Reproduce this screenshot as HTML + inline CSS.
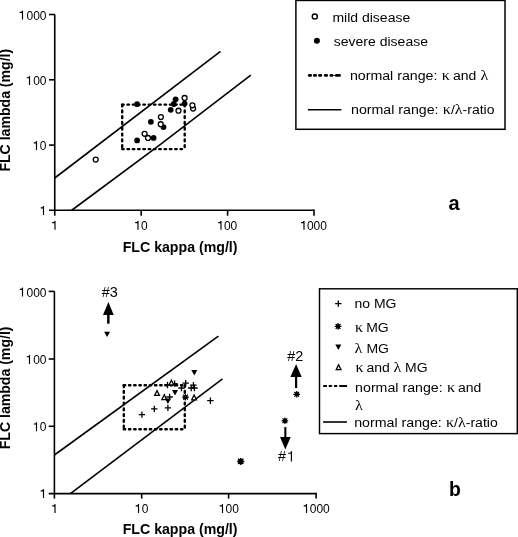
<!DOCTYPE html>
<html><head><meta charset="utf-8">
<style>
html,body{margin:0;padding:0;background:#fff;}
body{width:518px;height:537px;overflow:hidden;}
svg{display:block;font-family:"Liberation Sans",sans-serif;will-change:transform;}
.ax line{stroke:#000;stroke-width:1.6;}
.tl{font-size:12px;fill:#000;}
.tt{font-size:14px;font-weight:bold;fill:#000;}
.lg{font-size:13.5px;fill:#000;}
.gr{font-family:"Liberation Serif",serif;font-size:15.5px;}
</style></head>
<body>
<svg width="518" height="537" viewBox="0 0 518 537">
<defs>
<g id="oc"><circle r="2.45" fill="#fff" stroke="#000" stroke-width="1.35"/></g>
<g id="fc"><circle r="2.9" fill="#000"/></g>
<g id="pl"><path d="M-3.2 0H3.2M0 -3.2V3.2" stroke="#000" stroke-width="1.3" fill="none"/></g>
<g id="tu"><path d="M0 -2.3L2.4 2.5H-2.4Z" fill="#fff" stroke="#000" stroke-width="1.3" stroke-linejoin="miter"/></g>
<g id="td"><path d="M-3 -2.1H3L0 3.3Z" fill="#000"/></g>
<g id="st2"><circle r="2.7" fill="#000"/><path d="M-3.6 0H3.6M0 -3.5V3.5M-2.6 -2.6L2.6 2.6M-2.6 2.6L2.6 -2.6" stroke="#000" stroke-width="1.5"/></g>
<g id="st3"><circle r="1.9" fill="#000"/><path d="M-2.8 0H2.8M0 -2.8V2.8M-2 -2L2 2M-2 2L2 -2" stroke="#000" stroke-width="1.1"/></g>
<g id="st"><circle r="2.2" fill="#000"/><path d="M-3.3 0H3.3M0 -3.3V3.3M-2.4 -2.4L2.4 2.4M-2.4 2.4L2.4 -2.4" stroke="#000" stroke-width="1.2"/></g>
</defs>

<!-- ============ CHART A ============ -->
<g class="ax">
<line x1="54.75" y1="14.5" x2="54.75" y2="215.7"/>
<line x1="49" y1="210.25" x2="314" y2="210.25"/>
<line x1="49" y1="14.5" x2="54.75" y2="14.5"/>
<line x1="49" y1="79.8" x2="54.75" y2="79.8"/>
<line x1="49" y1="145.1" x2="54.75" y2="145.1"/>
<line x1="141.2" y1="210.25" x2="141.2" y2="215.7"/>
<line x1="227.6" y1="210.25" x2="227.6" y2="215.7"/>
<line x1="314" y1="209.5" x2="314" y2="215.7"/>
</g>
<g class="tl">
<text text-anchor="end" x="46.5" y="19.6">000</text>
<text text-anchor="end" x="46.5" y="84.9">00</text>
<text text-anchor="end" x="46.5" y="150.1">0</text>
<text x="140.9" y="229.8">0</text>
<text x="223.9" y="229.8">00</text>
<text x="306.9" y="229.8">000</text>
</g>
<text class="tt" x="122.7" y="251.6" textLength="114.8" lengthAdjust="spacingAndGlyphs">FLC kappa (mg/l)</text>
<text class="tt" transform="translate(10,171.6) rotate(-90)" textLength="122.8" lengthAdjust="spacingAndGlyphs">FLC lambda (mg/l)</text>

<path fill="none" stroke="#000" stroke-width="1.15" stroke-linejoin="round" d="M19.70 12.40H21.80L22.50 11.10V19.60 M26.70 77.70H28.80L29.50 76.40V84.90 M33.70 142.90H35.80L36.50 141.60V150.10 M40.70 207.80H42.80L43.50 206.50V215.00 M52.20 222.60H54.30L55.00 221.30V229.80 M135.20 222.60H137.30L138.00 221.30V229.80 M218.20 222.60H220.30L221.00 221.30V229.80 M301.20 222.60H303.30L304.00 221.30V229.80 M19.70 289.30H21.80L22.50 288.00V296.50 M26.70 356.70H28.80L29.50 355.40V363.90 M33.70 424.00H35.80L36.50 422.70V431.20 M40.70 490.80H42.80L43.50 489.50V498.00 M52.20 505.80H54.30L55.00 504.50V513.00 M135.70 505.80H137.80L138.50 504.50V513.00 M219.70 505.80H221.80L222.50 504.50V513.00 M303.70 505.80H305.80L306.50 504.50V513.00 M288.20 453.20H290.70L291.40 451.70V461.50"/>
<!-- lines -->
<g stroke="#000" stroke-width="1.6" fill="none">
<line x1="54.75" y1="178" x2="220.5" y2="51.4"/>
<path d="M71.4 210.5L160.5 144.3L250.8 75.1"/>
<g stroke-width="2.4" stroke-linecap="round">
<path d="M122.2 104.6H184.7M122.2 149.1H184.7" stroke-dasharray="1.5 3.8"/>
<path d="M122.2 104.6V149.1M184.7 104.6V149.1" stroke-dasharray="1.8 4"/>
</g>
</g>

<!-- points A -->
<use href="#fc" x="137.1" y="104.2"/>
<use href="#fc" x="137.1" y="140.4"/>
<use href="#oc" x="144.6" y="133.8"/>
<use href="#oc" x="148" y="137.9"/>
<use href="#fc" x="153.6" y="137.9"/>
<use href="#fc" x="150.9" y="121.8"/>
<use href="#oc" x="160.9" y="117"/>
<use href="#fc" x="163.5" y="127.1"/>
<use href="#oc" x="160.7" y="124.2"/>
<use href="#fc" x="170.7" y="109.8"/>
<use href="#oc" x="178.5" y="110.7"/>
<use href="#fc" x="175.6" y="99.3"/>
<use href="#fc" x="173.8" y="104"/>
<use href="#fc" x="184.6" y="103.6"/>
<use href="#oc" x="184.6" y="97.9"/>
<use href="#oc" x="193.1" y="108.6"/>
<use href="#oc" x="192.4" y="105.3"/>
<use href="#oc" x="95.7" y="159.6"/>

<!-- legend A -->
<rect x="295.9" y="0.45" width="209.1" height="128.85" fill="none" stroke="#000" stroke-width="1.5"/>
<circle cx="314.8" cy="16.5" r="2.55" fill="#fff" stroke="#000" stroke-width="1.4"/>
<circle cx="316.9" cy="40.7" r="3" fill="#000"/>
<g class="lg">
<text transform="translate(332.4,21.5) scale(1.037,1)">mild disease</text>
<text transform="translate(333.8,46.1) scale(1.037,1)">severe disease</text>
<text transform="translate(349.9,79.6) scale(1.052,1)">normal range:</text><text class="gr" transform="translate(441.8,79.6) scale(1.037,1)">κ</text><text transform="translate(453.0,79.6) scale(1.037,1)">and</text><text class="gr" transform="translate(480.6,79.6) scale(1.037,1)">λ</text>
<text transform="translate(351.0,114.1) scale(1.052,1)">normal range:</text><text transform="translate(442.8,114.1) scale(1.037,1)"><tspan class="gr">κ</tspan>/<tspan class="gr">λ</tspan>-ratio</text>
</g>
<g fill="#000">
<rect x="307.9" y="74" width="4.1" height="2.7" rx="1.2"/>
<rect x="313" y="74" width="4" height="2.7" rx="1.2"/>
<rect x="318.2" y="74" width="3.9" height="2.7" rx="1.2"/>
<rect x="323.9" y="74" width="4.1" height="2.7" rx="1.2"/>
<rect x="329.5" y="74" width="3.8" height="2.7" rx="1.2"/>
<rect x="333" y="75" width="2.2" height="0.8"/>
<rect x="335" y="74" width="5.9" height="2.7" rx="1.2"/>
</g>
<line x1="307.9" y1="109.7" x2="341.4" y2="109.7" stroke="#000" stroke-width="1.6"/>
<text x="448.5" y="209.9" font-size="20" font-weight="bold">a</text>

<!-- ============ CHART B ============ -->
<g class="ax">
<line x1="54.4" y1="291.4" x2="54.4" y2="498.6"/>
<line x1="48.7" y1="493.6" x2="316.1" y2="493.6"/>
<line x1="48.7" y1="291.4" x2="54.4" y2="291.4"/>
<line x1="48.7" y1="359" x2="54.4" y2="359"/>
<line x1="48.7" y1="426.3" x2="54.4" y2="426.3"/>
<line x1="141.7" y1="493.6" x2="141.7" y2="498.6"/>
<line x1="228.6" y1="493.6" x2="228.6" y2="498.6"/>
<line x1="316.1" y1="492.8" x2="316.1" y2="498.6"/>
</g>
<g class="tl">
<text text-anchor="end" x="46.5" y="296.5">000</text>
<text text-anchor="end" x="46.5" y="363.9">00</text>
<text text-anchor="end" x="46.5" y="431.2">0</text>
<text x="141.70" y="513">0</text>
<text x="225.56" y="513">00</text>
<text x="309.73" y="513">000</text>
</g>
<text class="tt" x="122.7" y="534.2" textLength="114.8" lengthAdjust="spacingAndGlyphs">FLC kappa (mg/l)</text>
<text class="tt" transform="translate(10,449.3) rotate(-90)" textLength="122.8" lengthAdjust="spacingAndGlyphs">FLC lambda (mg/l)</text>

<g stroke="#000" stroke-width="1.6" fill="none">
<line x1="54.4" y1="455" x2="218.4" y2="336.1"/>
<line x1="70.4" y1="493.6" x2="222.5" y2="378.9"/>
<g stroke-width="2.4" stroke-linecap="round">
<path d="M123.8 385.2H184.8M123.8 429.3H184.8" stroke-dasharray="1.4 3.8"/>
<path d="M123.8 385.2V429.3M184.8 385.2V429.3" stroke-dasharray="1.8 4"/>
</g>
</g>

<!-- points B -->
<use href="#pl" x="141.9" y="414.6"/>
<use href="#pl" x="154.3" y="408.9"/>
<use href="#pl" x="167.9" y="407.9"/>
<use href="#pl" x="169.6" y="397"/>
<use href="#pl" x="167.5" y="385"/>
<use href="#pl" x="174.6" y="383.6"/>
<use href="#pl" x="181.5" y="388"/>
<use href="#pl" x="185.7" y="383.2"/>
<use href="#pl" x="193.4" y="385.2"/>
<use href="#pl" x="191.2" y="388"/>
<use href="#pl" x="194.4" y="388"/>
<use href="#pl" x="210.4" y="400.7"/>
<use href="#tu" x="157" y="392.9"/>
<use href="#tu" x="164.3" y="397.1"/>
<use href="#tu" x="171.4" y="382.5"/>
<use href="#tu" x="194.1" y="397.3"/>
<use href="#td" x="175" y="392.1"/>
<use href="#td" x="167.9" y="400.7"/>
<use href="#td" x="194.3" y="372.1"/>
<use href="#td" x="107.1" y="333.8"/>
<use href="#st" x="185.5" y="397.1"/>
<use href="#st" x="296.7" y="394.3"/>
<use href="#st" x="284.9" y="420.8"/>
<use href="#st2" x="240.7" y="461.4"/>

<!-- arrows -->
<g fill="#000">
<path d="M108.4 302L113.7 315H103Z"/>
<rect x="107.1" y="314" width="2.5" height="9.7"/>
<path d="M296.1 364L301.7 377H290.4Z"/>
<rect x="295" y="376" width="2.2" height="12"/>
<path d="M285.3 449.6L290.7 437.1H280Z"/>
<rect x="284.3" y="427.1" width="2.1" height="11"/>
</g>
<g class="lg">
<text x="101.8" y="297.1" font-size="14.4">#3</text>
<text x="287.2" y="360.5" font-size="14.4">#2</text>
<text x="278" y="461.4" font-size="14.4">#</text>
</g>

<!-- legend B -->
<rect x="319.5" y="288.8" width="197.8" height="144.8" fill="none" stroke="#000" stroke-width="1.45"/>
<use href="#pl" x="338.3" y="303.6"/>
<use href="#st" x="338.1" y="326.4"/>
<use href="#td" x="338.3" y="346.6"/>
<use href="#tu" x="338.6" y="367.1"/>
<g fill="#000">
<rect x="323" y="384.9" width="4.1" height="2.1" rx="0.9"/>
<rect x="328.6" y="384.9" width="3.6" height="2.1" rx="0.9"/>
<rect x="333.8" y="384.9" width="3.6" height="2.1" rx="0.9"/>
<rect x="339.1" y="384.9" width="8" height="2.1" rx="0.5"/>
</g>
<line x1="323.1" y1="422" x2="346.9" y2="422" stroke="#000" stroke-width="1.6"/>
<g class="lg">
<text transform="translate(354.5,308.2) scale(1.037,1)">no MG</text>
<text class="gr" transform="translate(355.0,331.9) scale(1.037,1)">κ</text><text transform="translate(366.2,331.9) scale(1.037,1)">MG</text>
<text class="gr" transform="translate(354.4,352.9) scale(1.037,1)">λ</text><text transform="translate(366.4,352.9) scale(1.037,1)">MG</text>
<text class="gr" transform="translate(355.4,371.9) scale(1.037,1)">κ</text><text transform="translate(366.4,371.9) scale(1.037,1)">and</text><text class="gr" transform="translate(393.5,371.9) scale(1.037,1)">λ</text><text transform="translate(405.1,371.9) scale(1.037,1)">MG</text>
<text transform="translate(355.1,391.9) scale(1.052,1)">normal range:</text><text class="gr" transform="translate(447.1,391.9) scale(1.037,1)">κ</text><text transform="translate(457.9,391.9) scale(1.037,1)">and</text>
<text class="gr" transform="translate(355.0,410.2) scale(1.037,1)">λ</text>
<text transform="translate(354.2,426.6) scale(1.052,1)">normal range:</text><text transform="translate(446.0,426.6) scale(1.037,1)"><tspan class="gr">κ</tspan>/<tspan class="gr">λ</tspan>-ratio</text>
</g>
<text x="449.1" y="496.1" font-size="19.4" font-weight="bold">b</text>
</svg>
</body></html>
